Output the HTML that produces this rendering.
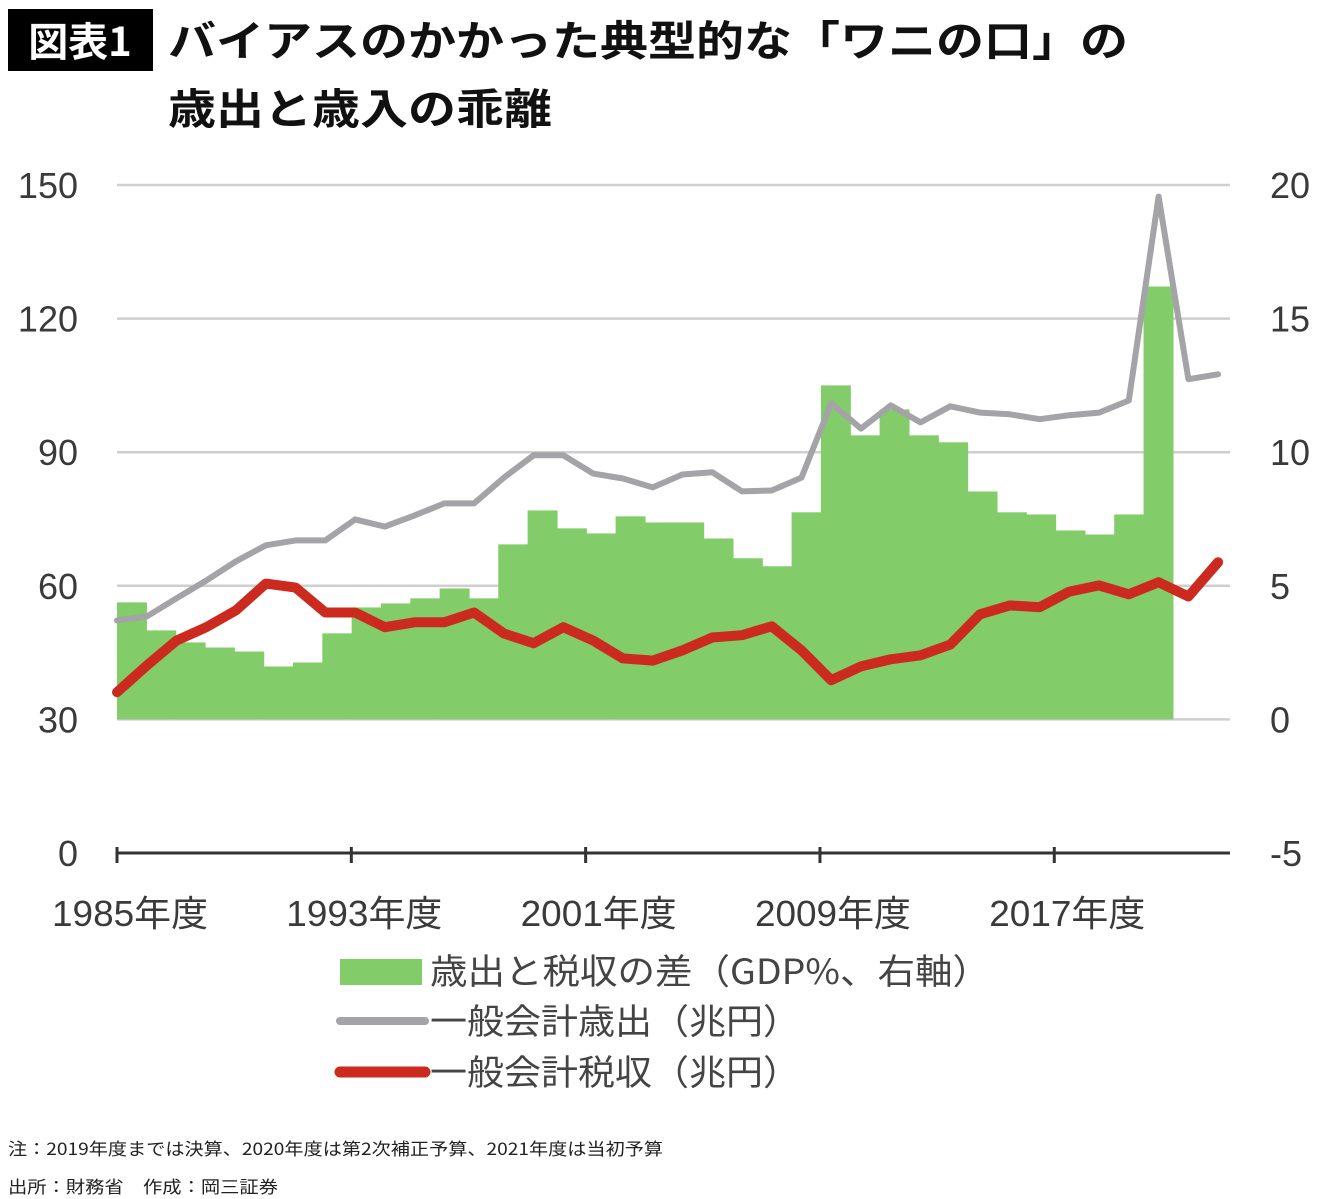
<!DOCTYPE html>
<html><head><meta charset="utf-8">
<style>
html,body{margin:0;padding:0;background:#fff;}
svg{display:block;font-family:"Liberation Sans","Noto Sans CJK JP",sans-serif;}
</style></head>
<body>
<svg id="chart" width="1340" height="1199" viewBox="0 0 1340 1199" xmlns="http://www.w3.org/2000/svg">
  <rect x="8" y="9" width="145" height="62" fill="#000"/>
  <text x="80" y="56" text-anchor="middle" font-size="40" font-weight="bold" fill="#fff" font-family="'Noto Sans CJK JP',sans-serif">図表1</text>
  <text x="168" y="56" font-size="42" font-weight="bold" fill="#111" font-family="'Noto Sans CJK JP',sans-serif" textLength="960" lengthAdjust="spacingAndGlyphs">バイアスのかかった典型的な「ワニの口」の</text>
  <text x="168" y="124" font-size="42" font-weight="bold" fill="#111" font-family="'Noto Sans CJK JP',sans-serif" textLength="384" lengthAdjust="spacingAndGlyphs">歳出と歳入の乖離</text>
  <g id="grid"></g>
  <g id="bars"></g>
  <g id="lines"></g>
  <g id="axes"></g>
  <g>
    <rect x="340" y="959" width="82" height="26" fill="#82cc69"/>
    <text x="430" y="984" font-size="35" fill="#444" font-family="'Noto Sans CJK JP',sans-serif" textLength="560" lengthAdjust="spacingAndGlyphs">歳出と税収の差（GDP%、右軸）</text>
    <line x1="340" y1="1021" x2="425" y2="1021" stroke="#a3a3a8" stroke-width="8" stroke-linecap="round"/>
    <text x="430" y="1034" font-size="35" fill="#444" font-family="'Noto Sans CJK JP',sans-serif" textLength="370" lengthAdjust="spacingAndGlyphs">一般会計歳出（兆円）</text>
    <line x1="340" y1="1072" x2="425" y2="1072" stroke="#cc2a1e" stroke-width="11" stroke-linecap="round"/>
    <text x="430" y="1085" font-size="35" fill="#444" font-family="'Noto Sans CJK JP',sans-serif" textLength="370" lengthAdjust="spacingAndGlyphs">一般会計税収（兆円）</text>
  </g>
  <text x="8" y="1155" font-size="17" fill="#222" font-family="'Noto Sans CJK JP',sans-serif" textLength="655" lengthAdjust="spacingAndGlyphs">注：2019年度までは決算、2020年度は第2次補正予算、2021年度は当初予算</text>
  <text x="8" y="1193" font-size="17" fill="#222" font-family="'Noto Sans CJK JP',sans-serif" textLength="270" lengthAdjust="spacingAndGlyphs">出所：財務省　作成：岡三証券</text>
</svg>
<script>
const barYears = [1985,1986,1987,1988,1989,1990,1991,1992,1993,1994,1995,1996,1997,1998,1999,2000,2001,2002,2003,2004,2005,2006,2007,2008,2009,2010,2011,2012,2013,2014,2015,2016,2017,2018,2019,2020];
const gapGdp = [4.38,3.33,2.88,2.69,2.54,1.98,2.13,3.22,4.19,4.34,4.53,4.90,4.53,6.55,7.82,7.15,6.96,7.60,7.37,7.37,6.77,6.03,5.73,7.75,12.5,10.63,11.6,10.63,10.37,8.53,7.75,7.67,7.07,6.92,7.67,16.2];
const lineYears = [1985,1986,1987,1988,1989,1990,1991,1992,1993,1994,1995,1996,1997,1998,1999,2000,2001,2002,2003,2004,2005,2006,2007,2008,2009,2010,2011,2012,2013,2014,2015,2016,2017,2018,2019,2020,2021,2022];
const expenditure = [52.2,53.1,57.2,61.2,65.5,69.1,70.2,70.2,74.9,73.3,75.8,78.5,78.5,84.3,89.3,89.3,85.2,84.1,82.1,85.0,85.5,81.2,81.4,84.3,101.0,95.3,100.5,96.7,100.3,98.9,98.5,97.4,98.3,98.9,101.6,147.4,106.4,107.5];
const taxRevenue = [36.1,42.1,47.7,50.7,54.5,60.5,59.6,54.0,54.0,50.7,51.8,51.8,54.0,49.3,47.1,50.7,47.7,43.7,43.2,45.5,48.4,48.9,50.9,45.5,38.8,41.9,43.5,44.4,46.8,53.6,55.6,55.2,58.7,60.1,58.1,60.8,57.6,65.3];
const leftTicks = [0,30,60,90,120,150];
const rightTicks = ["-5","0","5","10","15","20"];
const xTickLabels = ["1985年度","1993年度","2001年度","2009年度","2017年度"];

const NS = "http://www.w3.org/2000/svg";
const X0 = 117, PX_PER_YEAR_TICK = 29.29, BAR_W = 29.33, LINE_STEP = 29.76;
const yL = v => 853 - v * (668 / 150);
const yR = v => 853 - (v + 5) * (668 / 25);
const xBar = i => X0 + i * BAR_W;
const xLine = i => X0 + i * LINE_STEP;
function mk(tag, attrs, parent) {
  const e = document.createElementNS(NS, tag);
  for (const k in attrs) e.setAttribute(k, attrs[k]);
  parent.appendChild(e);
  return e;
}
const grid = document.getElementById('grid');
const axes = document.getElementById('axes');
leftTicks.forEach((t, i) => {
  const y = yL(t);
  if (t > 0) {
    const g = mk('line', {x1: X0, x2: 1230, y1: y, y2: y, stroke: '#cfcfcf', 'stroke-width': 2.5}, grid);
    
    
  }
  const lt = mk('text', {x: 78, y: y + 13, 'text-anchor': 'end', 'font-size': 36, fill: '#3a3a3a'}, axes);
  lt.textContent = t;
  
  
  const rt = mk('text', {x: 1270, y: y + 13, 'font-size': 36, fill: '#3a3a3a'}, axes);
  rt.textContent = rightTicks[i];
  
  
});
const bars = document.getElementById('bars');
gapGdp.forEach((v, i) => {
  const y = yR(v);
  const b = mk('rect', {x: xBar(i), y: y, width: BAR_W + 0.6, height: yR(0) - y, fill: '#82cc69'}, bars);
  
  
});
const lines = document.getElementById('lines');
const ptsE = expenditure.map((v, i) => xLine(i).toFixed(1) + ',' + yL(v).toFixed(1)).join(' ');
const pe = mk('polyline', {points: ptsE, fill: 'none', stroke: '#a3a3a8', 'stroke-width': 6, 'stroke-linejoin': 'round', 'stroke-linecap': 'round'}, lines);


const ptsT = taxRevenue.map((v, i) => xLine(i).toFixed(1) + ',' + yL(v).toFixed(1)).join(' ');
const pt = mk('polyline', {points: ptsT, fill: 'none', stroke: '#cc2a1e', 'stroke-width': 10, 'stroke-linejoin': 'round', 'stroke-linecap': 'round'}, lines);


const ax = mk('line', {x1: X0 - 1, x2: 1230, y1: 853, y2: 853, stroke: '#333', 'stroke-width': 3}, axes);


xTickLabels.forEach((lab, i) => {
  const x = X0 + i * 8 * PX_PER_YEAR_TICK;
  const tk = mk('line', {x1: x, x2: x, y1: 847, y2: 863, stroke: '#333', 'stroke-width': 3}, axes);
  
  
  const t = mk('text', {x: x + 13, y: 926, 'text-anchor': 'middle', 'font-size': 36, fill: '#3a3a3a', textLength: 156, lengthAdjust: 'spacingAndGlyphs'}, axes);
  t.textContent = lab;
  
  
});
</script>
</body></html>
